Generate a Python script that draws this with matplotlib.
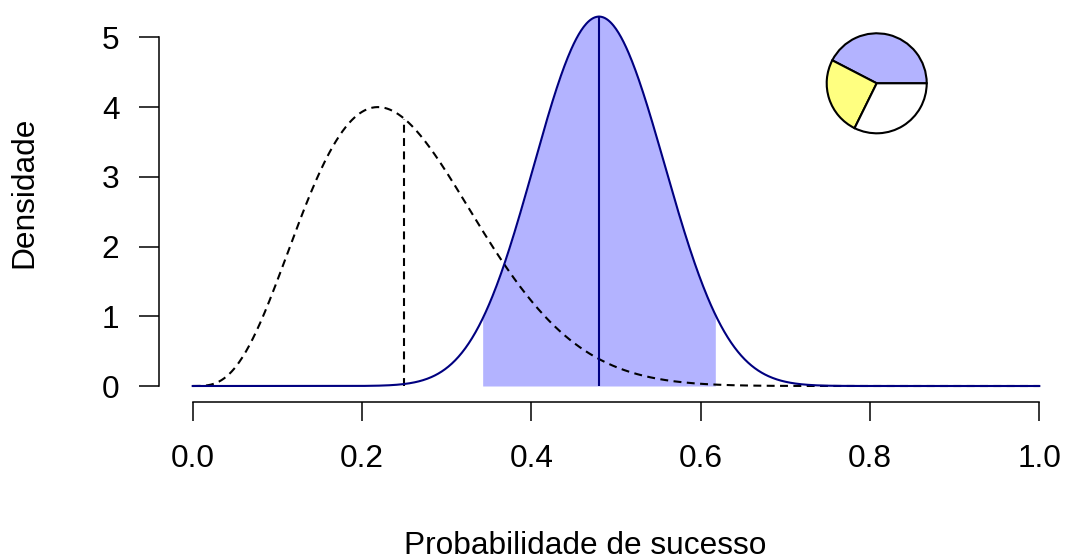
import math
import numpy as np
import matplotlib
matplotlib.use("Agg")
import matplotlib.pyplot as plt

# ---- data ----
prior_params = [4.5, 13.5]        # dashed curve, Beta(a, b)
post_params = [21.4, 23.1]        # solid navy curve, Beta(a, b)
prior_mark = 0.25                 # dashed vertical line
post_mark = 0.48                  # solid vertical line
interval = [0.3425, 0.6173]       # shaded region
pie_shares = [42.4, 25.3, 32.3]   # blue, yellow, white
pie_colors = ["#b3b3ff", "#ffff80", "#ffffff"]
xticks = [0.0, 0.2, 0.4, 0.6, 0.8, 1.0]
xtick_labels = ["0.0", "0.2", "0.4", "0.6", "0.8", "1.0"]
yticks = [0, 1, 2, 3, 4, 5]
xlabel = "Probabilidade de sucesso"
ylabel = "Densidade"


def beta_pdf(x, a, b):
    x = np.asarray(x, dtype=float)
    lb = math.lgamma(a) + math.lgamma(b) - math.lgamma(a + b)
    out = np.zeros_like(x)
    m = (x > 0) & (x < 1)
    out[m] = np.exp((a - 1) * np.log(x[m]) + (b - 1) * np.log(1 - x[m]) - lb)
    return out


plt.rcParams["font.family"] = ["Liberation Sans", "DejaVu Sans"]
FS = 22.8
W, H = 1065, 560
fig = plt.figure(figsize=(W / 100, H / 100), dpi=100)

x0_px, x1_px = 192.7, 1039.3
y0_px = 386.0
ppu_y = 69.74
ytop = 5.5
ax = fig.add_axes([x0_px / W, (H - y0_px) / H, (x1_px - x0_px) / W, ytop * ppu_y / H])
ax.set_xlim(0, 1)
ax.set_ylim(0, ytop)
ax.patch.set_alpha(0)

xs = np.linspace(0, 1, 1001)
prior_y = beta_pdf(xs, *prior_params)
post_y = beta_pdf(xs, *post_params)

# shaded interval
xi = np.linspace(interval[0], interval[1], 400)
yi = beta_pdf(xi, *post_params)
ax.fill_between(xi, 0, yi, color="#b3b3ff", lw=0, clip_on=False, zorder=1)

dash = (0, (3.8, 2.6))
ax.plot(xs, prior_y, color="black", lw=1.5, ls=dash, clip_on=False, zorder=2)
ax.plot([prior_mark, prior_mark], [0, beta_pdf([prior_mark], *prior_params)[0]],
        color="black", lw=1.5, ls=dash, zorder=2)
ax.plot(xs, post_y, color="#000080", lw=1.5, clip_on=False, zorder=3)
ax.plot([post_mark, post_mark], [0, beta_pdf([post_mark], *post_params)[0]],
        color="#000080", lw=1.5, zorder=3)

# R-style axes
for s in ["top", "right"]:
    ax.spines[s].set_visible(False)
ax.spines["left"].set_position(("outward", 33.9 * 0.72))
ax.spines["bottom"].set_position(("outward", 15.7 * 0.72))
ax.spines["left"].set_bounds(0, 5)
ax.spines["bottom"].set_bounds(0, 1)
for s in ["left", "bottom"]:
    ax.spines[s].set_linewidth(1.1)
ax.set_xticks(xticks)
ax.set_xticklabels(xtick_labels)
ax.set_yticks(yticks)
ax.tick_params(axis="y", direction="out", length=14.4, width=1.1, labelsize=FS, pad=14)
ax.tick_params(axis="x", direction="out", length=13.7, width=1.1, labelsize=FS, pad=17)

fig.text(24 / W, 1 - 192 / H, ylabel, rotation=90, ha="center", va="center", fontsize=FS)
fig.text(585.6 / W, 1 - 546 / H, xlabel, ha="center", va="center", fontsize=FS)

# pie
cx, cy, r = 876.7, 83.3, 50.0
pax = fig.add_axes([(cx - r - 2) / W, (H - cy - r - 2) / H, (2 * r + 4) / W, (2 * r + 4) / H])
pax.pie(pie_shares, colors=pie_colors, startangle=0, counterclock=True, radius=r / (r + 2),
        wedgeprops=dict(edgecolor="black", linewidth=1.5))
pax.set_xlim(-1, 1)
pax.set_ylim(-1, 1)
pax.set_aspect("equal")
pax.axis("off")

fig.savefig("out.png", dpi=100)
